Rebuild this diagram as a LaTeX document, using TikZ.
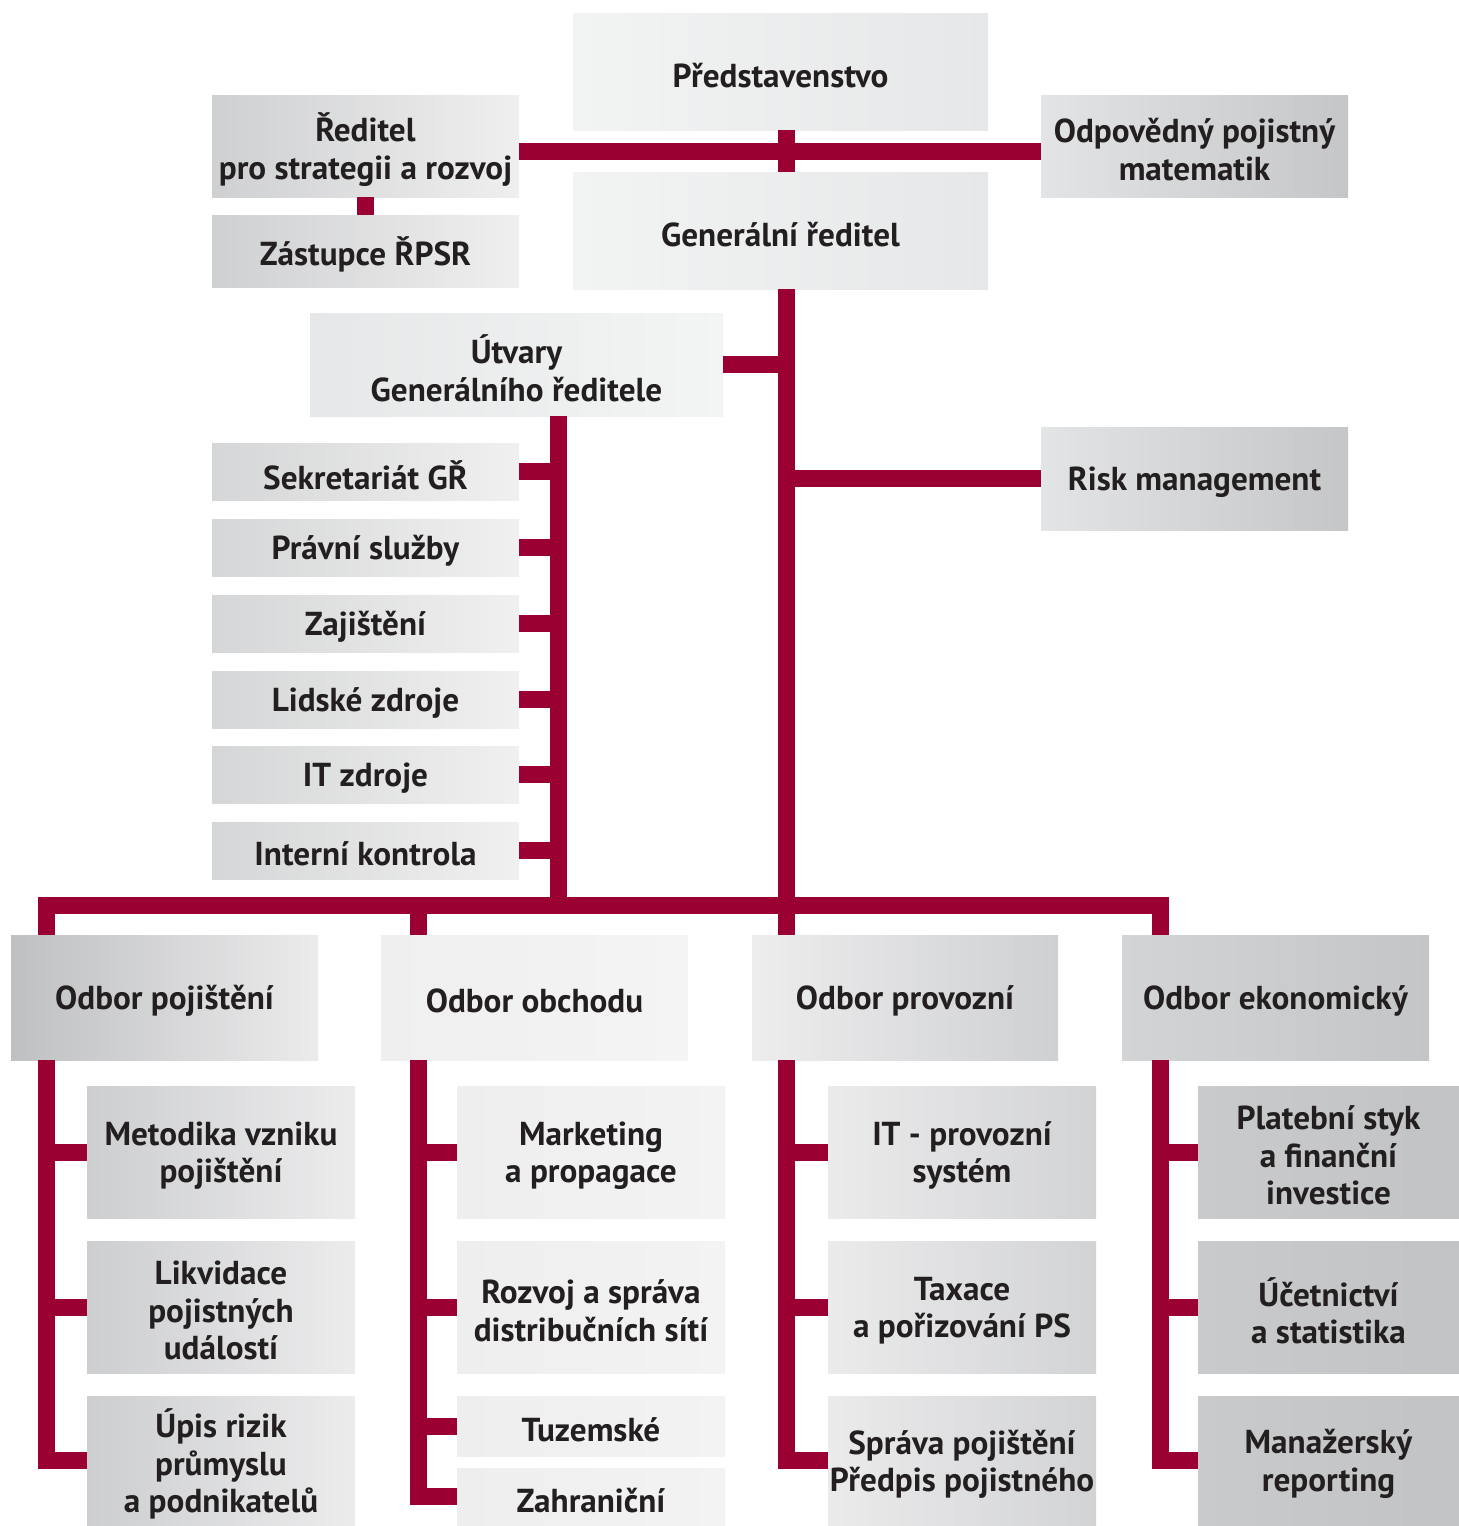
\documentclass[tikz,border=0pt]{standalone}
\usepackage{fontspec}
\setmainfont{PT Sans}
\definecolor{rd}{HTML}{9B0032}
\definecolor{txt}{HTML}{231F20}
\definecolor{gA}{HTML}{F2F3F3}
\definecolor{gB}{HTML}{E6E7E8}
\definecolor{gRl}{HTML}{CFD0D2}
\definecolor{gRr}{HTML}{EFEFEF}
\definecolor{gOl}{HTML}{E3E4E5}
\definecolor{gOr}{HTML}{C5C6C8}
\definecolor{gUl}{HTML}{E6E7E8}
\definecolor{gUr}{HTML}{F3F4F4}
\definecolor{gSl}{HTML}{D5D6D7}
\definecolor{gSr}{HTML}{F0F0F0}
\definecolor{gPl}{HTML}{BFC0C2}
\definecolor{gPr}{HTML}{EBEBEC}
\definecolor{gBl}{HTML}{EFEFEF}
\definecolor{gBr}{HTML}{F4F4F4}
\definecolor{gVl}{HTML}{EDEDEE}
\definecolor{gVr}{HTML}{CFD0D2}
\definecolor{gEl}{HTML}{D3D4D6}
\definecolor{gEr}{HTML}{C4C5C7}
\definecolor{a1l}{HTML}{CDCED0}
\definecolor{a1r}{HTML}{ECECED}
\definecolor{b1l}{HTML}{EEEEEE}
\definecolor{b1r}{HTML}{F3F3F3}
\definecolor{c1l}{HTML}{EBEBEC}
\definecolor{c1r}{HTML}{D2D3D5}
\definecolor{e1l}{HTML}{C9CACC}
\definecolor{e1r}{HTML}{C2C3C5}
\tikzset{
  boxbg/.style={inner sep=0pt},
  boxtext/.style={inner sep=0pt, align=center, text=txt,
    font=\bfseries\fontsize{16.6}{18.8}\selectfont},
  conn/.style={draw=rd, line width=8.5pt, line join=miter},
}
\newcommand\orgbox[8]{%
  \node[boxbg, left color=#6, right color=#7,
    minimum width={(#4-#2)*0.5pt}, minimum height={(#5-#3)*0.5pt}]
    (#1) at ({(#2+#4)/2},{(#3+#5)/2}) {};
  \node[boxtext] (#1-t) at ([yshift=-1.8pt]#1.center) {#8};}
\begin{document}
\begin{tikzpicture}[x=0.5pt,y=-0.5pt]
\useasboundingbox (0,0) rectangle (1459,1526);
% top level
\orgbox{pr}{573}{13}{988}{130}{gA}{gB}{Představenstvo}
\orgbox{gr}{573}{172}{988}{289}{gA}{gB}{Generální ředitel}
\orgbox{rps}{212}{95}{519}{197}{gRl}{gRr}{Ředitel\\pro strategii a rozvoj}
\orgbox{zas}{212}{215}{519}{287}{gRl}{gRr}{Zástupce ŘPSR}
\orgbox{opm}{1041}{95}{1348}{197}{gOl}{gOr}{Odpovědný pojistný\\matematik}
\orgbox{ug}{310}{313}{723}{416}{gUl}{gUr}{Útvary\\Generálního ředitele}
\orgbox{risk}{1041}{427}{1348}{530}{gOl}{gOr}{Risk management}
% staff units
\orgbox{sek}{212}{443}{519}{500}{gSl}{gSr}{Sekretariát GŘ}
\orgbox{prav}{212}{519}{519}{576}{gSl}{gSr}{Právní služby}
\orgbox{zaj}{212}{595}{519}{652}{gSl}{gSr}{Zajištění}
\orgbox{lz}{212}{671}{519}{728}{gSl}{gSr}{Lidské zdroje}
\orgbox{itz}{212}{746}{519}{803}{gSl}{gSr}{IT zdroje}
\orgbox{ik}{212}{822}{519}{879}{gSl}{gSr}{Interní kontrola}
% departments
\orgbox{dpoj}{11}{935}{318}{1060}{gPl}{gPr}{Odbor pojištění}
\orgbox{dobc}{381}{935}{688}{1060}{gBl}{gBr}{Odbor obchodu}
\orgbox{dpro}{752}{935}{1058}{1060}{gVl}{gVr}{Odbor provozní}
\orgbox{deko}{1122}{935}{1429}{1060}{gEl}{gEr}{Odbor ekonomický}
% sub units
\orgbox{a1}{87}{1086}{355}{1218}{a1l}{a1r}{Metodika vzniku\\pojištění}
\orgbox{a2}{87}{1241}{355}{1373}{a1l}{a1r}{Likvidace\\pojistných\\událostí}
\orgbox{a3}{87}{1396}{355}{1525}{a1l}{a1r}{Úpis rizik\\průmyslu\\a podnikatelů}
\orgbox{b1}{457}{1086}{725}{1218}{b1l}{b1r}{Marketing\\a propagace}
\orgbox{b2}{457}{1241}{725}{1373}{b1l}{b1r}{Rozvoj a správa\\distribučních sítí}
\orgbox{b3}{457}{1396}{725}{1456}{b1l}{b1r}{Tuzemské}
\orgbox{b4}{457}{1468}{725}{1525}{b1l}{b1r}{Zahraniční}
\orgbox{c1}{828}{1086}{1096}{1218}{c1l}{c1r}{IT - provozní\\systém}
\orgbox{c2}{828}{1241}{1096}{1373}{c1l}{c1r}{Taxace\\a pořizování PS}
\orgbox{c3}{828}{1396}{1096}{1525}{c1l}{c1r}{Správa pojištění\\Předpis pojistného}
\orgbox{e1}{1198}{1086}{1459}{1218}{e1l}{e1r}{Platební styk\\a finanční\\investice}
\orgbox{e2}{1198}{1241}{1459}{1373}{e1l}{e1r}{Účetnictví\\a statistika}
\orgbox{e3}{1198}{1396}{1459}{1525}{e1l}{e1r}{Manažerský\\reporting}
% helper coordinates
\coordinate (xA) at (46,0);
\coordinate (xB) at (418,0);
\coordinate (xC) at (786,0);
\coordinate (xD) at (1160,0);
\coordinate (xU) at (558.5,0);
\coordinate (yT) at (0,151.5);
\coordinate (yBar) at (0,905.5);
% connectors
\draw[conn] (rps.east |- yT) -- (opm.west |- yT);
\draw[conn] (pr.south -| xC) -- (gr.north -| xC);
\draw[conn] (rps.south) -- (zas.north);
\draw[conn] (gr.south -| xC) -- (dpro.north -| xC);
\draw[conn] (ug.east) -- (ug.east -| xC);
\draw[conn] (risk.west) -- (risk.west -| xC);
\draw[conn] (ug.south -| xU) -- (xU |- yBar);
\foreach \n in {sek,prav,zaj,lz,itz,ik}
  \draw[conn] (\n.east) -- (\n.east -| xU);
\draw[conn] (dpoj.north -| xA) -- (xA |- yBar) -- (xD |- yBar) -- (deko.north -| xD);
\draw[conn] (xB |- yBar) -- (dobc.north -| xB);
% department branches
\draw[conn] (dpoj.south -| xA) |- (a3.west);
\draw[conn] (a1.west -| xA) -- (a1.west);
\draw[conn] (a2.west -| xA) -- (a2.west);
\draw[conn] (dobc.south -| xB) |- (b4.west);
\draw[conn] (b1.west -| xB) -- (b1.west);
\draw[conn] (b2.west -| xB) -- (b2.west);
\draw[conn] (b3.west -| xB) -- (b3.west);
\draw[conn] (dpro.south -| xC) |- (c3.west);
\draw[conn] (c1.west -| xC) -- (c1.west);
\draw[conn] (c2.west -| xC) -- (c2.west);
\draw[conn] (deko.south -| xD) |- (e3.west);
\draw[conn] (e1.west -| xD) -- (e1.west);
\draw[conn] (e2.west -| xD) -- (e2.west);
\end{tikzpicture}
\end{document}
